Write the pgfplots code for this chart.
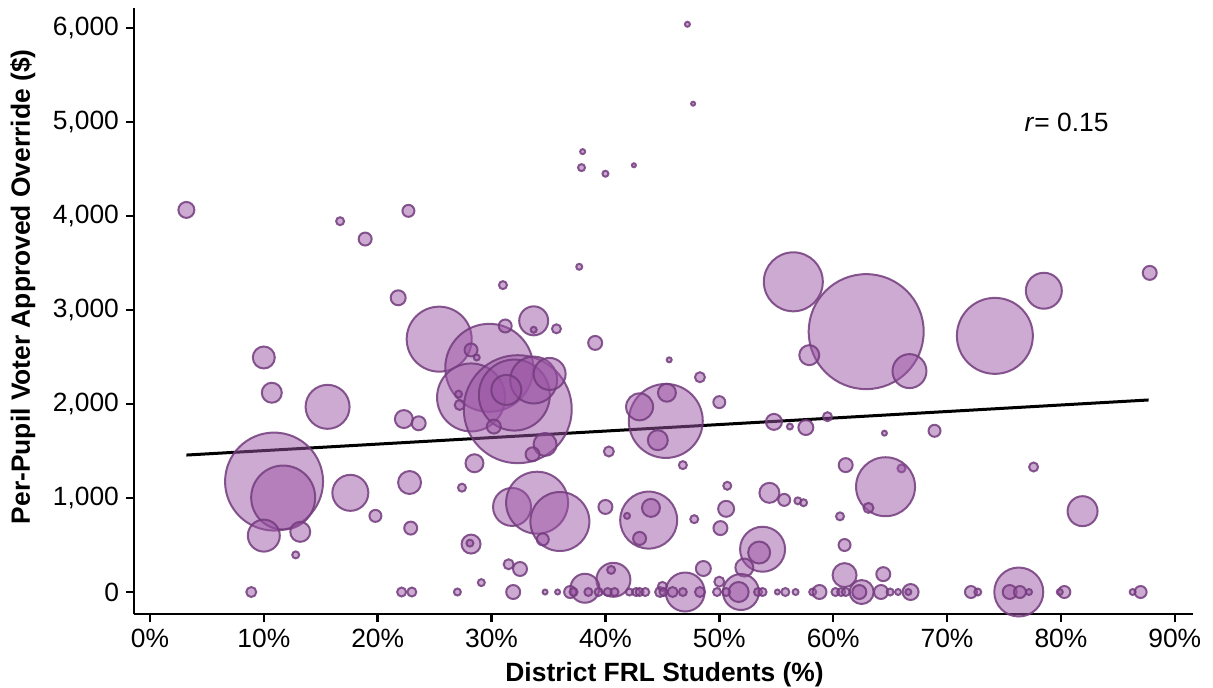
\documentclass[border=0pt]{standalone}
\usepackage{fontspec}
\setmainfont{Liberation Sans}
\usepackage{pgfplots}
\usepackage{pgfplotstable}
\pgfplotsset{compat=1.18}

\definecolor{bubfill}{RGB}{155,85,165}
\definecolor{bubedge}{RGB}{115,60,125}

% x = FRL share (%), y = override per pupil ($), r = bubble radius (px of the reference)
\pgfplotstableread{
x y r
47.2 6040 2.5
47.7 5195 2
38.0 4685 2.5
37.9 4515 3.5
40.0 4450 3
42.5 4540 2
3.2 4065 8
16.7 3945 4
18.9 3755 6.5
22.7 4055 6
21.8 3130 7.5
37.7 3460 3
31.0 3265 4
56.5 3300 29.5
78.5 3205 18
87.8 3395 7
62.9 2770 57.5
74.2 2725 38
57.9 2520 10
66.7 2350 17
25.4 2690 32.5
29.8 2385 44
28.2 2070 34
32.3 1945 54
32.0 2095 35.5
33.7 2255 23.5
35.1 2320 16
31.3 2150 15
33.7 2885 14.5
33.7 2790 3
35.7 2800 4.5
31.2 2830 6.5
28.2 2575 6.5
28.7 2495 3
27.1 2105 3.5
27.2 1990 5
30.2 1760 7
34.7 1570 11.5
33.6 1465 7
28.5 1370 9
39.1 2650 7
10.0 2495 11
10.7 2120 10
15.6 1970 22
22.3 1840 9
23.6 1795 7
10.9 1175 49
11.7 1005 32
10.0 600 16
13.2 640 10
12.8 395 3.5
17.6 1055 18
19.8 810 6
22.8 1165 11.5
22.9 680 6.5
8.9 0 5
22.1 0 4.5
23.0 0 4.5
27.0 0 3.5
29.1 100 3.5
31.9 0 7
31.5 295 5
32.5 245 7
27.4 1110 4
28.2 510 9.5
28.1 520 3.5
31.8 905 19
34.0 950 31
36.0 750 29.5
34.5 560 6
40.0 905 7
43.8 765 28.5
44.0 895 9
41.9 810 3
43.0 570 6.5
40.3 1495 5
45.6 2470 2.5
48.3 2285 5
50.0 2020 6
45.3 1820 37
43.0 1970 13.5
45.4 2120 9
44.6 1615 10
46.8 1350 4
54.8 1810 8
56.2 1760 3
57.6 1750 7.5
59.5 1865 4.5
64.5 1690 2.5
68.9 1715 6
77.6 1330 4.5
66.0 1315 4
64.6 1120 29.5
63.1 895 5
61.1 1350 7
60.6 805 4
61.0 500 6
81.9 860 15
47.8 775 4
50.7 1130 4
50.6 885 8
50.1 680 7
54.4 1055 10
55.7 980 6
56.9 970 3.5
57.4 950 3.5
53.8 455 22.5
53.5 420 11
52.2 260 9
48.6 250 7.5
50.0 110 5
40.7 130 17
40.5 235 4
38.2 40 14.5
47.0 0 19.5
51.9 0 18
51.7 0 10
76.3 0 24.5
75.5 0 7
76.4 0 6
77.2 0 3
61.0 180 12
64.4 190 7
62.5 0 12
62.3 0 7
64.2 0 7
65.0 0 3.5
65.7 0 3
66.8 0 8
66.6 0 3
72.1 0 6
72.7 0 3.5
80.3 0 6
79.9 0 3
87.0 0 6
86.3 0 3
34.7 0 2.5
35.8 0 2.5
36.9 0 6
37.2 0 4
38.5 0 4
39.4 0 4
40.2 0 4
40.8 0 4
42.1 0 3.5
42.7 0 4
43.0 0 4
43.5 0 4
44.8 0 5
45.0 60 4.5
45.1 0 4
45.9 0 5
46.8 0 4
48.3 0 5
49.8 0 4
50.6 0 4
53.4 0 4
53.8 0 4
55.1 0 2.5
55.8 0 4
56.7 0 3
58.2 0 3.5
58.8 0 7
60.2 0 4
60.7 0 4
61.1 0 4
}\districts

\begin{document}
\begin{tikzpicture}
\useasboundingbox (-67pt,-36.5pt) rectangle (539.5pt,307pt);
\begin{axis}[
    at={(0,0)}, anchor=south west,
    width=529.5pt, height=303pt, scale only axis,
    xmin=-1.4, xmax=91.6, ymin=-234, ymax=6213,
    axis lines=left,
    axis line style={-, line width=1.3pt},
    tick align=outside,
    major tick length=4pt,
    tick style={black, line width=1.2pt},
    xtick={0,10,...,90},
    xticklabels={0\%,10\%,20\%,30\%,40\%,50\%,60\%,70\%,80\%,90\%},
    ytick={0,1000,...,6000},
    yticklabels={0,{1,000},{2,000},{3,000},{4,000},{5,000},{6,000}},
    ticklabel style={font=\fontsize{13.2}{15}\selectfont},
    xlabel={District FRL Students (\%)},
    ylabel={Per-Pupil Voter Approved Override (\$)},
    label style={font=\fontsize{13.2}{16}\selectfont\bfseries},
    xlabel style={at={(axis description cs:0.501,-0.1106)}, anchor=base},
    ylabel style={at={(axis description cs:-0.0982,0.54)}, anchor=base},
    clip=false,
  ]
  \addplot[
    scatter, only marks, mark=*,
    visualization depends on={\thisrow{r} \as \rpx},
    scatter/@pre marker code/.code={%
      \pgfmathsetmacro\ms{0.5*\rpx}%
      \scope[mark size=\ms pt, draw=bubedge, fill=bubfill,
             fill opacity=0.5, draw opacity=0.85, line width=1pt]%
    },
    scatter/@post marker code/.code={\endscope},
  ] table[x=x, y=y] {\districts};

  \addplot[black, line width=1.5pt, no marks] coordinates {(3.2,1457) (87.7,2043)};

  \node[anchor=base west, font=\fontsize{13.2}{15}\selectfont] at (axis cs:76.2,4904) {\textit{r}= 0.15};
\end{axis}
\end{tikzpicture}
\end{document}
